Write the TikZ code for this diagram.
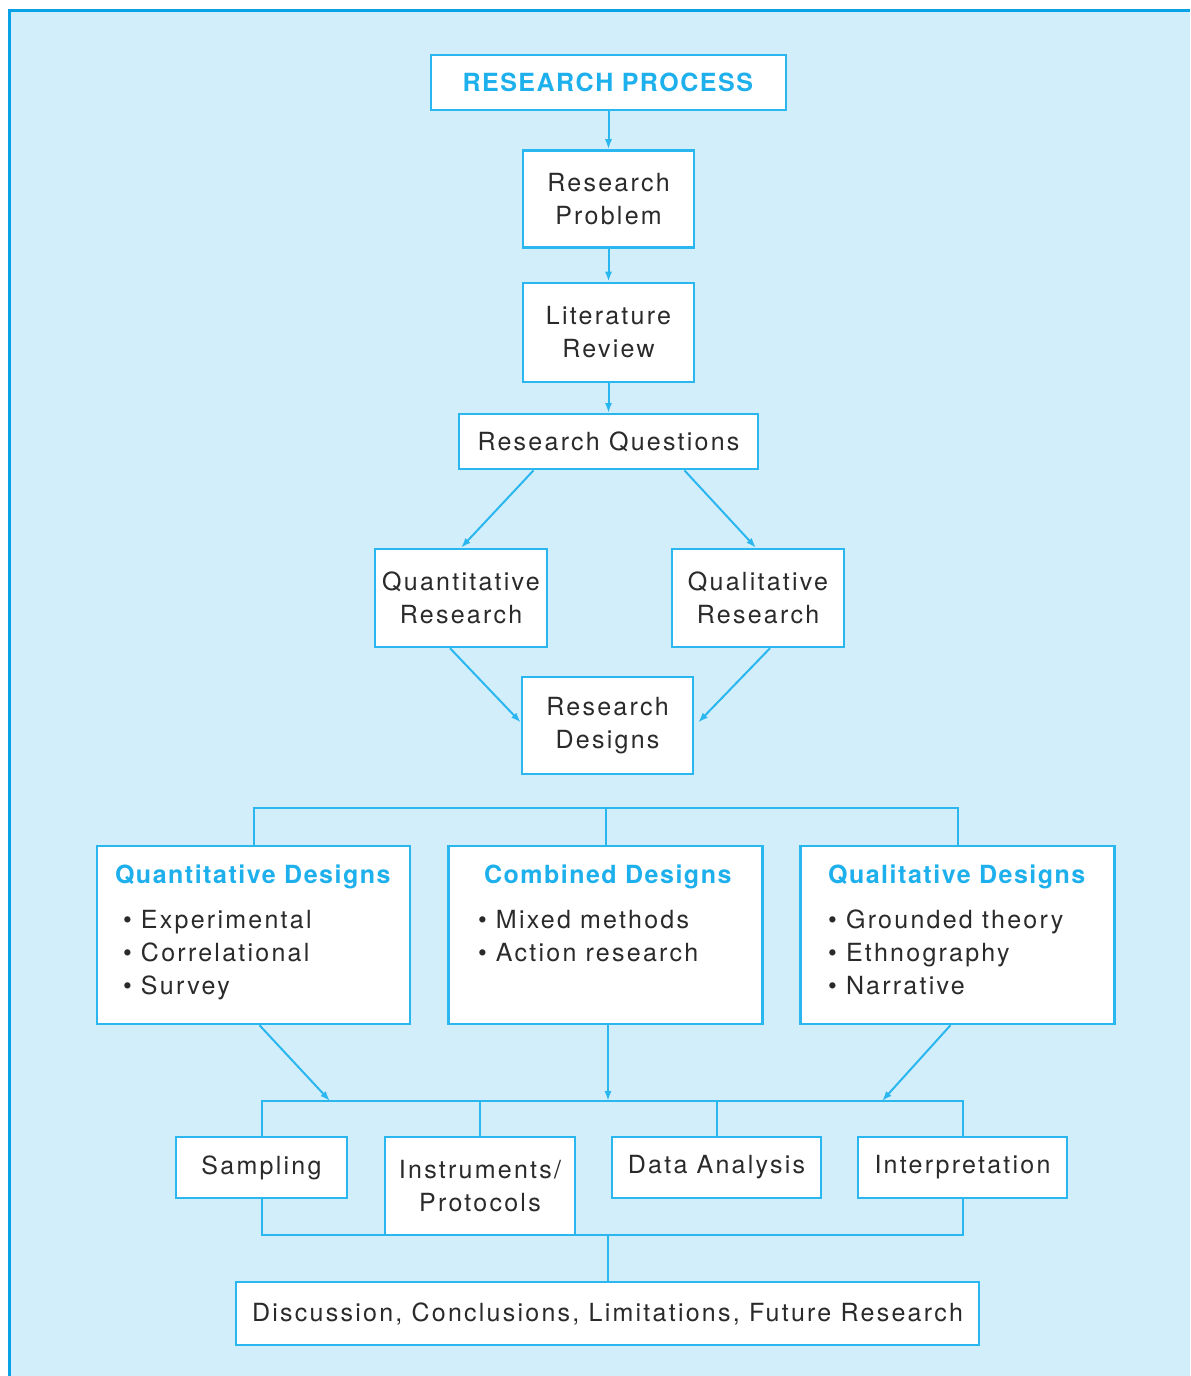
\documentclass[tikz,border=0pt]{standalone}
\usepackage{fontspec}
\setmainfont{TeX Gyre Heros}[LetterSpace=9, BoldFeatures={LetterSpace=6}]
\usepackage{tikz}
\usetikzlibrary{calc,arrows.meta,positioning}

\definecolor{pagebg}{HTML}{D3EEFB}
\definecolor{pageedge}{HTML}{0AA2E6}
\definecolor{boxblue}{HTML}{2AB6EE}
\definecolor{headblue}{HTML}{1EB0EC}
\definecolor{inkgray}{HTML}{2A2A2A}

\tikzset{
  box/.style={draw=boxblue, fill=white, line width=1.2pt, text=inkgray,
    align=center, inner sep=2pt, font=\fontsize{12.5}{16.5}\selectfont},
  designbox/.style={box, align=left, minimum width=157pt, minimum height=89pt},
  link/.style={draw=boxblue, line width=1pt},
  arr/.style={link, -{Latex[length=5pt,width=3.6pt]}},
}
\newcommand{\dhead}[1]{\textcolor{headblue}{\textbf{#1}}\\[6pt]}

\begin{document}
\begin{tikzpicture}[x=0.5pt, y=-0.5pt, node distance=16.5pt]
  \useasboundingbox (0,0) rectangle (1190,1376);
  \fill[pagebg] (9.5,10.5) rectangle (1190,1376);
  \draw[pageedge, line width=1.8pt] (9.5,1376) -- (9.5,10.5) -- (1190,10.5);

  % main column
  \node[box, minimum width=177.5pt, minimum height=27.5pt] (rp) at (608.5,82.5)
    {\textcolor{headblue}{\textbf{RESEARCH PROCESS}}};
  \node[box, minimum width=85.5pt, minimum height=48.5pt, below=19pt of rp] (prob)
    {Research\\Problem};
  \node[box, minimum width=85.5pt, minimum height=49.5pt, below=of prob] (lit)
    {Literature\\Review};
  \node[box, minimum width=149.5pt, minimum height=27.5pt, below=15pt of lit] (rq)
    {Research Questions};
  \node[box, minimum width=86pt, minimum height=49pt] (quantr) at (461,598)
    {Quantitative\\Research};
  \node[box, minimum width=86pt, minimum height=49pt] (qualr) at (758,598)
    {Qualitative\\Research};
  \node[box, minimum width=85.5pt, minimum height=48.5pt] (des) at (607.5,725.5)
    {Research\\Designs};

  % designs
  \node[designbox, minimum width=156.5pt] (quantd) at (253.5,935)
    {\dhead{Quantitative Designs}
     \hspace{4pt}\textbullet\ Experimental\\
     \hspace{4pt}\textbullet\ Correlational\\
     \hspace{4pt}\textbullet\ Survey\strut};
  \node[designbox] (combd) at (605.5,935)
    {\hspace{3pt}\dhead{Combined Designs}
     \textbullet\ Mixed methods\\
     \textbullet\ Action research\\
     \strut};
  \node[designbox] (quald) at (957.5,935)
    {\dhead{Qualitative Designs}
     \textbullet\ Grounded theory\\
     \textbullet\ Ethnography\\
     \textbullet\ Narrative\strut};

  % steps
  \node[box, minimum width=85.5pt, minimum height=30.5pt] (samp) at (261.5,1167.5)
    {Sampling};
  \node[box, minimum width=95pt, minimum height=49pt] (instr) at (480,1186)
    {Instruments/\\Protocols};
  \node[box, minimum width=104.5pt, minimum height=30.5pt] (data) at (716.5,1167.5)
    {Data Analysis};
  \node[box, minimum width=104.5pt, minimum height=30.5pt] (interp) at (962.5,1167.5)
    {Interpretation};
  \node[box, minimum width=371.5pt, minimum height=31.5pt] (disc) at (607.5,1313.5)
    {Discussion, Conclusions, Limitations, Future Research};

  \coordinate (top) at (606,808);
  \coordinate (mid) at (608,1101);
  \coordinate (low) at (607.5,1235);
  \coordinate (inquant) at (330,1101);
  \coordinate (inqual) at (882,1101);

  \path [every edge/.style=arr]
    (rp) edge (prob)
    (prob) edge (lit)
    (lit) edge (rq)
    ($(rq.south)+(-75,0)$) edge (quantr.north)
    ($(rq.south)+(76,0)$) edge ($(qualr.north)+(-2,0)$)
    ($(quantr.south)+(-11,0)$) edge ($(des.west)+(0,-3)$)
    ($(qualr.south)+(12,0)$) edge ($(des.east)+(4,-3)$)
    ($(quantd.south)+(6,0)$) edge (inquant)
    ($(combd.south)+(2.5,0)$) edge (mid)
    ($(quald.south)+(-7,0)$) edge (inqual)
  ;

  \draw[link] (quantd.north) |- (top) -| (quald.north);
  \draw[link] (combd.north) -- (combd.north |- top);
  \draw[link] (samp.north) |- (mid) -| (interp.north);
  \draw[link] (instr.north) -- (instr.north |- mid);
  \draw[link] (data.north) -- (data.north |- mid);
  \draw[link] (samp.south) |- (low) -| (interp.south);
  \draw[link] (low) -- (disc.north);
\end{tikzpicture}
\end{document}
